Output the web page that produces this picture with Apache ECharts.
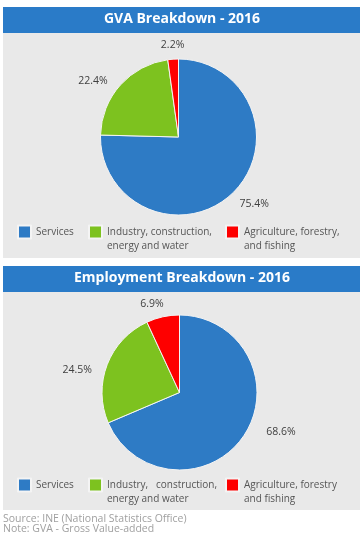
<!DOCTYPE html>
<html><head><meta charset="utf-8">
<script src="https://cdn.jsdelivr.net/npm/echarts@6/dist/echarts.min.js"></script>
<style>html,body{margin:0;padding:0;background:#fff}#c{width:364px;height:542px}</style>
</head><body><div id="c"></div>
<script>
const categories = ['Services', 'Industry, construction, energy and water', 'Agriculture, forestry, and fishing'];
const gvaValues = [75.4, 22.4, 2.2];
const empValues = [68.6, 24.5, 6.9];
const gvaLegendLabels = ['Services', 'Industry, construction,\nenergy and water', 'Agriculture, forestry,\nand fishing'];
const empLegendLabels = ['Services', 'Industry,   construction,\nenergy and water', 'Agriculture, forestry\nand fishing'];
const titles = ['GVA Breakdown - 2016', 'Employment Breakdown - 2016'];
const notes = ['Source: INE (National Statistics Office)', 'Note: GVA - Gross Value-added'];

const colors = ['#2e7bc5', '#7dc21f', '#fe0000'];
const FONT = '"Open Sans", sans-serif';

const chart = echarts.init(document.getElementById('c'), null, {renderer: 'canvas'});

function shiftPad(dx, dy) {
  return [dy > 0 ? 2 * dy : 0, dx < 0 ? -2 * dx : 0, dy < 0 ? -2 * dy : 0, dx > 0 ? 2 * dx : 0];
}

function pieSeries(values, center, r) {
  return {
    type: 'pie', center: center, radius: r, startAngle: 90, clockwise: true,
    silent: true, animation: false,
    label: {show: false}, labelLine: {show: false},
    itemStyle: {borderColor: '#f4f4f4', borderWidth: 1},
    data: categories.map((n, i) => ({name: n, value: values[i], itemStyle: {color: colors[i]}}))
  };
}

function labelSeries(values, center, shifts) {
  return {
    type: 'pie', center: center, radius: [90, 104], startAngle: 90, clockwise: true,
    silent: true, animation: false, avoidLabelOverlap: false,
    itemStyle: {color: 'rgba(0,0,0,0)'},
    emphasis: {disabled: true},
    labelLine: {show: false},
    label: {show: true, position: 'inside',
      formatter: p => '{t|' + p.value.toFixed(1) + '%}',
      rich: {t: {fontFamily: FONT, fontSize: 10.5, color: '#404040', lineHeight: 13}}},
    data: categories.map((n, i) => ({name: n, value: values[i],
      label: {padding: shiftPad(shifts[i][0], shifts[i][1])}}))
  };
}

function legendItem(idx, labels, left, top, twoLine) {
  return {
    data: [categories[idx]], left: left, top: top, padding: 0,
    icon: 'rect', itemWidth: 13, itemHeight: 13, itemGap: 0,
    selectedMode: false,
    formatter: () => labels[idx].split('\n').map(s => '{t|' + s + '}').join('\n'),
    textStyle: {
      padding: twoLine ? [14, 0, 0, 0] : 0,
      rich: {t: {fontFamily: FONT, fontSize: 10, color: '#555', lineHeight: 14}}
    }
  };
}

const option = {
  animation: false,
  backgroundColor: '#ffffff',
  graphic: [
    {type: 'rect', shape: {x: 3, y: 33, width: 357, height: 225}, style: {fill: '#e9e9e9'}, silent: true, z: -10},
    {type: 'rect', shape: {x: 3, y: 7, width: 357, height: 26}, style: {fill: '#2a7bc8'}, silent: true, z: -10},
    {type: 'rect', shape: {x: 3, y: 292, width: 357, height: 218}, style: {fill: '#e9e9e9'}, silent: true, z: -10},
    {type: 'rect', shape: {x: 3, y: 266, width: 357, height: 26}, style: {fill: '#2a7bc8'}, silent: true, z: -10},
    {type: 'text', left: 3, top: 514, silent: true,
      style: {text: notes.join('\n'), fontFamily: FONT, fontSize: 10.5, lineHeight: 10, fill: '#a0a0a0'}}
  ],
  title: [
    {text: titles[0], left: 'center', top: 12, padding: 0,
      textStyle: {fontFamily: FONT, fontSize: 14, fontWeight: 'bold', color: '#ffffff'}},
    {text: titles[1], left: 'center', top: 271, padding: 0,
      textStyle: {fontFamily: FONT, fontSize: 14, fontWeight: 'bold', color: '#ffffff'}}
  ],
  legend: [
    legendItem(0, gvaLegendLabels, 17, 224.5, false),
    legendItem(1, gvaLegendLabels, 88, 224.5, true),
    legendItem(2, gvaLegendLabels, 225, 224.5, true),
    legendItem(0, empLegendLabels, 17, 477.5, false),
    legendItem(1, empLegendLabels, 88, 477.5, true),
    legendItem(2, empLegendLabels, 225, 477.5, true)
  ],
  series: [
    pieSeries(gvaValues, [178.5, 137], 78),
    pieSeries(empValues, [179.5, 392.5], 77.5),
    labelSeries(gvaValues, [178.5, 137], [[6, -5], [-11, 11], [1, 8]]),
    labelSeries(empValues, [179.5, 392.5], [[18, -16], [-9, 13], [-6, 9]])
  ]
};
chart.setOption(option);
</script>
</body></html>
